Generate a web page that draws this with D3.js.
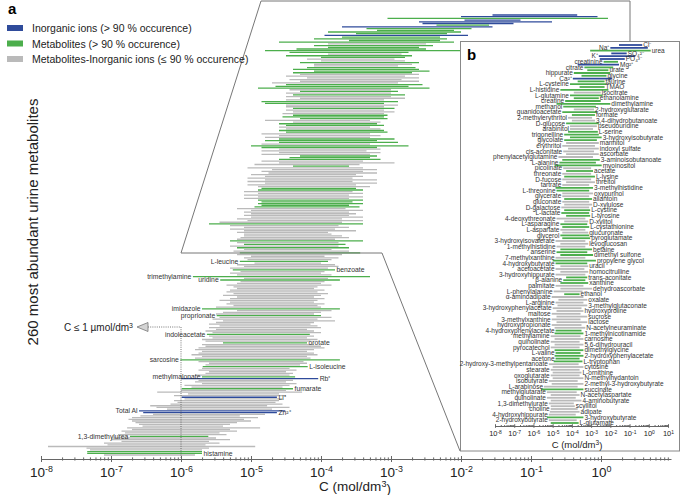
<!DOCTYPE html>
<html>
<head>
<meta charset="utf-8">
<script src="https://cdn.jsdelivr.net/npm/d3@7"></script>
<style>
  body { margin: 0; background: #fff; }
  svg { display: block; font-family: "Liberation Sans", Arial, sans-serif; }
</style>
</head>
<body>
<svg id="chart" width="681" height="495"></svg>
<script>
// 260 metabolites, most abundant first; the first 136 are the ones shown in the inset
const names = [
  'Cl⁻', 'Na⁺', 'urea', 'SO₄²⁻', 'K⁺', 'PO₄³⁻', 'creatinine', 'Mg²⁺', 'citrate', 'urate',
  'hippurate', 'glycine', 'Ca²⁺', 'taurine', 'L-cysteine', 'TMAO', 'L-histidine', 'isocitrate', 'L-glutamine', 'ethanolamine',
  'creatine', 'dimethylamine', 'methanol', '2-hydroxyglutarate', 'guanidoacetate', 'formate', '2-methylerythritol', '3,4-dihydrobutanoate', 'D-glucose', 'pseudouridine',
  'arabinitol', 'L-serine', 'trigonelline', '3-hydroxyisobutyrate', 'glycolate', 'mannitol', 'erythritol', 'indoxyl sulfate', 'cis-aconitate', 'ascorbate',
  'phenylacetylglutamine', '3-aminoisobutanoate', 'L-alanine', 'myoinositol', 'picolinate', 'acetate', 'threonate', 'L-lysine', 'D-fucose', 'threitol',
  'tartrate', '3-methylhistidine', 'L-threonine', 'oxypurinol', 'glycerate', 'allantoin', 'gluconate', 'D-xylulose', 'D-galactose', 'L-cystine',
  'L-lactate', 'L-tyrosine', '4-deoxythreonate', 'D-xylitol', 'L-asparagine', 'L-cystathionine', 'L-aspartate', 'glucuronate', 'glycerol', 'pyroglutamate',
  '3-hydroxyisovalerate', 'levoglucosan', '1-methylhistidine', 'betaine', 'anserine', 'dimethyl sulfone', '7-methylxanthine', 'propylene glycol', '4-hydroxybutyrate', 'uracil',
  'acetoacetate', 'homocitrulline', '3-hydroxyhippurate', 'trans-aconitate', 'β-alanine', 'xanthine', 'palmitate', 'dehydroascorbate', 'L-phenylalanine', 'ethanol',
  'α-aminoadipate', 'oxalate', 'L-arginine', '3-methylglutaconate', '3-hydroxyphenylacetate', 'hydroxyproline', 'maltose', 'sucrose', '3-methylxanthine', 'lactose',
  'hydroxypropionate', 'N-acetylneuraminate', '4-hydroxyphenylacetate', '1-methylnicotinamide', 'methylamine', 'carnosine', 'quinolinate', '5,6-dihydrouracil', 'pyrocatechol', 'dimethylglycine',
  'L-valine', '2-hydroxyphenylacetate', 'acetone', 'L-tryptophan', '2-hydroxy-3-methylpentanoate', 'cytosine', 'stearate', 'L-ornithine', 'oxoglutarate', 'N-methylhydantoin',
  'isobutyrate', '2-methyl-3-hydroxybutyrate', 'L-arabinose', 'succinate', 'methylglutarate', 'N-acetylaspartate', 'quinolinate', '4-aminobutyrate', '1,3-dimethylurate', 'scyllitol',
  'choline', 'adipate', '4-hydroxyhippurate', '3-hydroxybutyrate', '2-hydroxybutyrate', 'L-glutamate',
  '', '', '', '', '', '', '', '', '', 'L-leucine',
  '', '', '', '', 'benzoate', '', '', '', 'trimethylamine', '',
  'uridine', '', '', '', '', '', '', '', '', '',
  '', '', '', '', '', '', '', 'imidazole', '', '',
  '', 'proprionate', '', '', '', '', '', '', '', '',
  '', '', 'indoleacetate', '', '', '', '', 'orotate', '', '',
  '', '', '', '', '', '', '', 'sarcosine', '', '',
  '', 'L-isoleucine', '', '', '', '', '', 'methylmalonate', 'Rb⁺', '',
  '', '', '', '', 'fumarate', '', '', '', '', 'Li⁺',
  '', '', '', '', '', '', '', 'Total Al', 'Zn²⁺', '',
  '', '', '', '', '', '', '', '', '', '',
  '', '', '1,3-dimethylurea', '', '', '', '', '', '', '',
  '', '', 'histamine', ''
];

// log10 of the lowest and highest concentration (mol/dm3)
const lowExp = [
  -1.55, -2.0, -3.05, -1.95, -2.6, -2.55, -2.35, -3.7, -3.35, -3.2,
  -3.9, -3.5, -3.95, -3.7, -4.1, -3.6, -4.6, -3.9, -4.1, -3.9,
  -4.35, -4.8, -4.45, -3.9, -4.5, -4.0, -4.2, -4.0, -4.3, -4.1,
  -4.1, -4.2, -4.4, -4.1, -4.4, -4.3, -4.5, -4.2, -4.45, -4.3,
  -4.7, -4.5, -4.65, -4.9, -4.45, -4.3, -4.5, -4.4, -4.5, -4.3,
  -4.5, -4.85, -4.8, -4.5, -4.5, -4.4, -4.5, -4.4, -4.55, -4.4,
  -4.55, -4.3, -4.8, -4.4, -4.6, -4.5, -4.6, -4.5, -4.6, -4.5,
  -4.85, -4.6, -4.8, -4.6, -4.8, -4.6, -4.85, -5.0, -4.85, -4.6,
  -4.85, -4.6, -4.85, -4.3, -4.45, -4.6, -4.85, -4.6, -4.95, -4.4,
  -5.05, -4.7, -4.85, -4.75, -5.0, -4.8, -5.05, -4.8, -5.05, -4.8,
  -5.05, -4.9, -4.85, -4.9, -5.1, -4.9, -5.1, -4.9, -5.1, -4.9,
  -4.85, -4.9, -4.85, -4.95, -5.2, -5.0, -5.1, -5.0, -5.1, -5.0,
  -5.2, -5.05, -5.45, -5.6, -5.3, -5.1, -5.3, -5.1, -5.2, -5.1,
  -5.1, -5.15, -5.2, -5.3, -5.2, -5.1,
  -5.3, -5.2, -5.1, -5.25, -5.16, -5.2, -5.0, -5.1, -5.05, -5.16,
  -4.95, -5.2, -5.1, -5.3, -5.26, -5.15, -5.3, -5.2, -5.83, -5.1,
  -5.44, -5.15, -5.2, -5.35, -5.25, -5.2, -5.3, -5.35, -5.25, -5.4,
  -5.2, -5.3, -5.45, -5.3, -5.35, -5.25, -5.5, -5.7, -5.2, -5.4,
  -5.5, -5.49, -5.45, -5.55, -5.4, -5.5, -5.6, -5.45, -5.6, -5.5,
  -5.65, -5.55, -5.63, -5.6, -5.55, -5.7, -5.65, -5.4, -5.7, -5.65,
  -5.75, -5.8, -5.7, -5.75, -5.85, -5.7, -5.8, -6.01, -5.75, -5.6,
  -5.65, -5.69, -5.7, -5.75, -5.6, -5.65, -5.8, -5.7, -6.0, -5.75,
  -5.8, -5.7, -5.95, -5.85, -5.99, -6.0, -6.34, -5.9, -6.1, -5.99,
  -5.95, -6.1, -6.05, -6.15, -6.44, -6.35, -6.2, -6.6, -6.54, -6.4,
  -6.58, -6.7, -6.75, -6.7, -6.65, -6.6, -6.55, -6.77, -6.7, -6.85,
  -6.8, -6.9, -6.73, -6.95, -7.0, -6.85, -7.1, -7.05, -7.9, -7.35,
  -7.3, -7.34, -7.34, -7.1
];
const highExp = [
  -0.34, -0.05, 0.1, -1.15, -0.7, -1.25, -1.6, -1.55, -1.85, -2.1,
  -2.0, -2.2, -1.9, -2.3, -2.2, -2.3, -2.1, -2.5, -2.4, -2.6,
  -2.5, -2.0, -2.75, -2.85, -2.7, -2.8, -2.95, -2.8, -2.6, -2.7,
  -2.9, -2.65, -2.6, -2.45, -2.7, -2.6, -2.8, -2.6, -2.85, -2.6,
  -2.9, -2.55, -2.75, -2.45, -3.0, -2.9, -3.0, -2.8, -3.0, -2.8,
  -3.1, -2.9, -3.1, -2.9, -3.1, -2.95, -3.1, -2.95, -3.1, -3.05,
  -3.1, -3.05, -3.3, -3.15, -3.2, -3.1, -3.3, -3.15, -3.1, -3.05,
  -3.3, -3.15, -3.3, -2.95, -3.2, -2.9, -3.3, -2.75, -3.2, -3.15,
  -3.35, -3.15, -3.3, -3.2, -3.3, -3.15, -3.4, -2.95, -3.45, -3.6,
  -3.4, -3.2, -3.4, -3.2, -3.5, -3.4, -3.55, -3.2, -3.55, -3.2,
  -3.5, -3.3, -3.5, -3.4, -3.55, -3.4, -3.6, -3.4, -3.6, -3.4,
  -3.55, -3.4, -3.6, -3.45, -3.65, -3.4, -3.6, -3.5, -3.6, -3.4,
  -3.7, -3.4, -3.7, -3.4, -3.75, -3.6, -3.8, -3.5, -3.9, -3.85,
  -3.7, -3.6, -3.8, -3.4, -3.75, -3.65,
  -3.75, -3.6, -3.85, -3.6, -3.44, -3.7, -3.95, -3.75, -3.85, -3.9,
  -4.0, -3.8, -3.75, -3.9, -3.8, -3.95, -4.0, -3.85, -3.3, -3.9,
  -3.73, -3.95, -4.0, -3.85, -4.05, -4.1, -3.95, -4.05, -3.9, -4.0,
  -4.1, -3.95, -4.05, -4.1, -3.95, -4.05, -4.0, -3.73, -3.85, -4.0,
  -4.1, -4.0, -3.85, -4.05, -3.8, -4.1, -4.15, -4.05, -4.0, -4.2,
  -4.1, -4.0, -4.16, -4.1, -4.2, -4.05, -4.15, -4.2, -4.1, -4.0,
  -3.95, -4.1, -4.2, -4.1, -4.05, -4.2, -4.15, -3.73, -4.25, -4.2,
  -4.3, -4.19, -4.45, -4.35, -4.5, -4.4, -4.45, -4.37, -4.04, -4.4,
  -4.5, -4.35, -4.45, -4.55, -4.4, -4.5, -4.27, -4.6, -4.5, -4.63,
  -4.55, -4.6, -4.65, -4.55, -4.77, -4.45, -4.7, -4.51, -4.63, -4.8,
  -5.16, -4.9, -5.1, -5.0, -5.2, -5.3, -5.4, -4.87, -5.3, -5.2,
  -5.45, -5.35, -5.61, -5.5, -5.3, -5.6, -5.45, -5.65, -4.94, -5.6,
  -5.7, -5.7, -5.7, -5.8
];

// i = inorganic ion (> 90 %), m = metabolite (> 90 %), o = occurrence <= 90 %
const kinds = (
  'iimiiimimm' + 'mmimmmmomm' + 'mmmommoomo' + 'ommmmooooo' + 'ommmomomoo' +
  'ommoomooom' + 'mmoommoomm' + 'ooommmommo' + 'ooommmooom' + 'oooooooooo' +
  'oommooooom' + 'mmmmoooooo' + 'ooomoooooo' + 'ooomom' +
  'omoomoooom' + 'oooomooomo' + 'mooooooooo' + 'ooooooomoo' + 'omoooooooo' +
  'oomoooomoo' + 'ooooooomoo' + 'omooooomio' + 'oooomooooi' + 'oooooooiio' +
  'oooooooooo' + 'oomooooooo' + 'ommo'
).split('');

const insetCount = 136;
const rightLabelled = ['benzoate', 'orotate', 'L-isoleucine', 'Rb⁺', 'fumarate', 'Li⁺', 'Zn²⁺', 'histamine'];

const legendKinds = ['i', 'm', 'o'];
const legendLabels = [
  'Inorganic ions (> 90 % occurence)',
  'Metabolites (> 90 % occurence)',
  'Metabolites-Inorganic ions (≤ 90 % occurence)'
];

const mainDecades = d3.range(-8, 1);
const insetDecades = d3.range(-8, 2);

const colour = { i: '#2f4b9b', m: '#4cae4c', o: '#bababa' };

const svg = d3.select('#chart');
const bars = d3.range(names.length);

const mainX = d3.scaleLog().domain([1e-8, 10]).range([41, 671]);
const mainY = d3.scalePoint().domain(bars).range([15, 455]);

// ---- main panel bars
svg.append('g')
  .selectAll('line')
  .data(bars)
  .join('line')
    .attr('x1', i => mainX(10 ** lowExp[i]))
    .attr('x2', i => mainX(10 ** highExp[i]))
    .attr('y1', i => mainY(i))
    .attr('y2', i => mainY(i))
    .attr('stroke', i => colour[kinds[i]])
    .attr('stroke-width', 1.3);

svg.append('g')
  .selectAll('text')
  .data(bars.filter(i => i >= insetCount && names[i]))
  .join('text')
    .attr('x', i => rightLabelled.includes(names[i]) ? mainX(10 ** highExp[i]) + 1.5 : mainX(10 ** lowExp[i]) - 1.5)
    .attr('y', i => mainY(i))
    .attr('dy', '0.35em')
    .attr('text-anchor', i => rightLabelled.includes(names[i]) ? 'start' : 'end')
    .attr('font-size', 6.8)
    .attr('fill', '#333')
    .text(i => names[i]);

// ---- 1 µmol/dm3 marker
svg.append('path')
  .attr('d', `M148,327H${mainX(1e-6)}V459`)
  .attr('fill', 'none')
  .attr('stroke', '#555')
  .attr('stroke-width', 0.8)
  .attr('stroke-dasharray', '1,1.2');
svg.append('path')
  .attr('d', 'M137,327L148,322.5L148,331.5Z')
  .attr('fill', '#d4d4d4')
  .attr('stroke', '#777')
  .attr('stroke-width', 0.8);
const limitText = svg.append('text')
  .attr('x', 133).attr('y', 331)
  .attr('text-anchor', 'end')
  .attr('font-size', 10)
  .attr('fill', '#222')
  .text('C ≤ 1 µmol/dm');
limitText.append('tspan').attr('dy', '-0.45em').attr('font-size', 7).text('3');

// ---- axes helpers
const isDecade = d => Math.abs(Math.log10(d) - Math.round(Math.log10(d))) < 1e-9;

function logAxis(g, scale, decades, last, major, minor, fontSize, labelDy) {
  const values = decades.flatMap(e => d3.range(1, 10).map(k => k * 10 ** e)).filter(v => v <= last * 1.0001);
  g.call(d3.axisBottom(scale).tickValues(values).tickFormat('').tickSizeOuter(0).tickSizeInner(0));
  g.select('.domain').attr('stroke', '#666');
  g.selectAll('.tick line')
    .attr('stroke', '#666')
    .attr('y1', d => isDecade(d) ? -major : -minor)
    .attr('y2', d => isDecade(d) ? major : minor);
  const labels = g.selectAll('.tick')
    .filter(d => isDecade(d) && decades.includes(Math.round(Math.log10(d))))
    .append('text')
      .attr('y', labelDy)
      .attr('fill', '#222')
      .attr('font-size', fontSize)
      .attr('text-anchor', 'middle');
  labels.append('tspan').text('10');
  labels.append('tspan')
    .attr('dy', '-0.45em')
    .attr('font-size', fontSize * 0.66)
    .text(d => Math.round(Math.log10(d)));
  g.attr('font-family', null).attr('font-size', null);
}

logAxis(svg.append('g').attr('transform', 'translate(0,459)'), mainX, mainDecades, 9, 3, 1.6, 13.5, 17.5);

const mainTitle = svg.append('text')
  .attr('x', 355).attr('y', 491)
  .attr('text-anchor', 'middle')
  .attr('font-size', 13.5)
  .attr('fill', '#222')
  .text('C (mol/dm');
mainTitle.append('tspan').attr('dy', '-0.4em').attr('font-size', 9).text('3');
mainTitle.append('tspan').attr('dy', '0.4em').text(')');

svg.append('text')
  .attr('transform', 'translate(38,222) rotate(-90)')
  .attr('text-anchor', 'middle')
  .attr('font-size', 15)
  .attr('fill', '#222')
  .text('260 most abundant urine metabolites');

// ---- zoom outline
svg.append('path')
  .attr('d', `M${mainX(1e-6)},253L261,1L630,1L630,41M${mainX(1e-6)},253L382,253L460,451`)
  .attr('fill', 'none')
  .attr('stroke', '#777')
  .attr('stroke-width', 1);

// ---- legend
const legend = svg.append('g');
legend.selectAll('rect')
  .data(legendKinds)
  .join('rect')
    .attr('x', 7).attr('y', (d, i) => 25 + i * 15.5)
    .attr('width', 16).attr('height', 6)
    .attr('fill', d => colour[d]);
legend.selectAll('text')
  .data(legendLabels)
  .join('text')
    .attr('x', 32).attr('y', (d, i) => 32 + i * 15.5)
    .attr('font-size', 10.5)
    .attr('fill', '#222')
    .text(d => d);

svg.append('text').attr('x', 8).attr('y', 14)
  .attr('font-size', 15).attr('font-weight', 'bold').text('a');

// ---- inset b
svg.append('rect')
  .attr('x', 460.5).attr('y', 41.5)
  .attr('width', 219).attr('height', 409.5)
  .attr('fill', '#fff')
  .attr('stroke', '#888');

svg.append('text').attr('x', 467).attr('y', 60)
  .attr('font-size', 15).attr('font-weight', 'bold').text('b');

const inset = d3.range(insetCount);
const insetX = d3.scaleLog().domain([1e-8, 10]).range([495, 668]);
const insetY = d3.scalePoint().domain(inset).range([45, 423]);
const insetRight = i => i < 4 ? i !== 1 : i % 2 === 1;

svg.append('g')
  .selectAll('line')
  .data(inset)
  .join('line')
    .attr('x1', i => insetX(10 ** lowExp[i]))
    .attr('x2', i => insetX(10 ** highExp[i]))
    .attr('y1', i => insetY(i))
    .attr('y2', i => insetY(i))
    .attr('stroke', i => colour[kinds[i]])
    .attr('stroke-width', 1.8);

svg.append('g')
  .selectAll('text')
  .data(inset)
  .join('text')
    .attr('x', i => insetRight(i) ? insetX(10 ** highExp[i]) + 1 : insetX(10 ** lowExp[i]) - 1)
    .attr('y', i => insetY(i))
    .attr('dy', '0.35em')
    .attr('text-anchor', i => insetRight(i) ? 'start' : 'end')
    .attr('font-size', 6.5)
    .attr('fill', '#333')
    .text(i => names[i]);

logAxis(svg.append('g').attr('transform', 'translate(0,426)'), insetX, insetDecades, 10, 1.8, 1, 7.5, 10);

const insetTitle = svg.append('text')
  .attr('x', 577).attr('y', 448)
  .attr('text-anchor', 'middle')
  .attr('font-size', 9.5)
  .attr('fill', '#222')
  .text('C (mol/dm');
insetTitle.append('tspan').attr('dy', '-0.45em').attr('font-size', 6.5).text('3');
insetTitle.append('tspan').attr('dy', '0.45em').text(')');
</script>
</body>
</html>
